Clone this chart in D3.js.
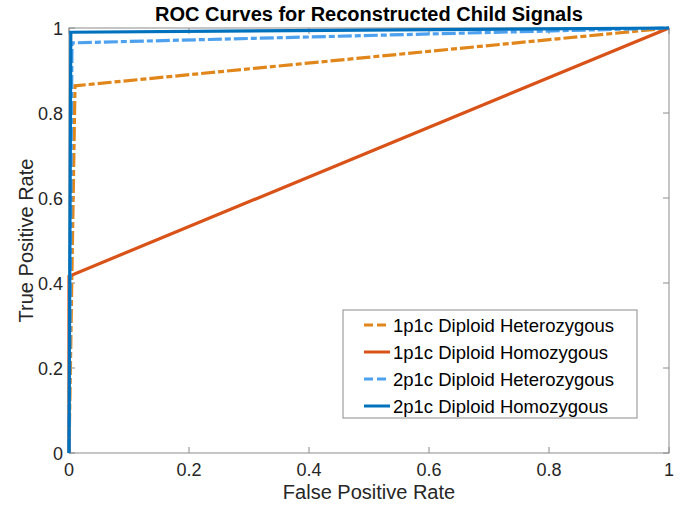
<!DOCTYPE html>
<html><head><meta charset="utf-8">
<script src="https://cdn.jsdelivr.net/npm/d3@7"></script>
<style>body{margin:0;background:#fff}svg{display:block}</style>
</head><body>
<svg id="c" width="697" height="505"></svg>
<script>
const seriesNames = ["1p1c Diploid Heterozygous","1p1c Diploid Homozygous","2p1c Diploid Heterozygous","2p1c Diploid Homozygous"];
const fpr1Het = [0, 0.01, 1];   const tpr1Het = [0, 0.864, 1];
const fpr1Hom = [0, 0.0, 1];    const tpr1Hom = [0, 0.416, 1];
const fpr2Het = [0, 0.005, 1];  const tpr2Het = [0, 0.965, 1];
const fpr2Hom = [0, 0.003, 1];  const tpr2Hom = [0, 0.99, 1];
const xTicks = [0,0.2,0.4,0.6,0.8,1];
const yTicks = [0,0.2,0.4,0.6,0.8,1];

const colors = ["#E0861A","#D95319","#4DA1EE","#0072BD"];
const dashes = ["14,3,6,3",null,"14,3,6,3",null];
const series = [[fpr1Het,tpr1Het],[fpr1Hom,tpr1Hom],[fpr2Het,tpr2Het],[fpr2Hom,tpr2Hom]];

const svg = d3.select("#c");
const L=69,R=669,T=28,B=453;
const x = d3.scaleLinear().domain([0,1]).range([L,R]);
const y = d3.scaleLinear().domain([0,1]).range([B,T]);
const font = "'Liberation Sans', Arial, Helvetica, sans-serif";
const axc = "#8c8c8c";

svg.append("rect").attr("x",L).attr("y",T).attr("width",R-L).attr("height",B-T)
  .attr("fill","none").attr("stroke",axc).attr("stroke-width",1);
xTicks.forEach(t=>{
  const px = x(t);
  svg.append("line").attr("x1",px).attr("x2",px).attr("y1",B).attr("y2",B-6).attr("stroke",axc);
  svg.append("line").attr("x1",px).attr("x2",px).attr("y1",T).attr("y2",T+6).attr("stroke",axc);
  svg.append("text").attr("x",px).attr("y",B+23).attr("text-anchor","middle")
    .attr("font-family",font).attr("font-size",18).attr("fill","#262626").text(d3.format("~g")(t));
});
yTicks.forEach(t=>{
  const py = y(t);
  svg.append("line").attr("x1",L).attr("x2",L+6).attr("y1",py).attr("y2",py).attr("stroke",axc);
  svg.append("line").attr("x1",R).attr("x2",R-6).attr("y1",py).attr("y2",py).attr("stroke",axc);
  svg.append("text").attr("x",L-6).attr("y",py+7).attr("text-anchor","end")
    .attr("font-family",font).attr("font-size",18).attr("fill","#262626").text(d3.format("~g")(t));
});

const line = d3.line().x(d=>x(d[0])).y(d=>y(d[1]));
series.forEach((s,i)=>{
  const pts = s[0].map((v,j)=>[v,s[1][j]]);
  svg.append("path").attr("d",line(pts)).attr("fill","none")
    .attr("stroke",colors[i]).attr("stroke-width",3.2)
    .attr("stroke-dasharray",dashes[i]);
});

svg.append("text").attr("x",(L+R)/2).attr("y",21).attr("text-anchor","middle")
  .attr("font-family",font).attr("font-weight","bold").attr("font-size",20).attr("fill","#000")
  .text("ROC Curves for Reconstructed Child Signals");
svg.append("text").attr("x",(L+R)/2).attr("y",499).attr("text-anchor","middle")
  .attr("font-family",font).attr("font-size",20).attr("fill","#262626").text("False Positive Rate");
svg.append("text").attr("transform",`translate(33,${(T+B)/2}) rotate(-90)`).attr("text-anchor","middle")
  .attr("font-family",font).attr("font-size",20).attr("fill","#262626").text("True Positive Rate");

const lg = svg.append("g");
lg.append("rect").attr("x",343).attr("y",310).attr("width",294).attr("height",108)
  .attr("fill","#fff").attr("stroke",axc);
seriesNames.forEach((n,i)=>{
  const yy = 325 + i*27;
  lg.append("line").attr("x1",364).attr("x2",390).attr("y1",yy).attr("y2",yy)
    .attr("stroke",colors[i]).attr("stroke-width",3).attr("stroke-dasharray",dashes[i]?"9,4":null);
  lg.append("text").attr("x",393).attr("y",yy+6.5).attr("font-family",font).attr("font-size",18.5)
    .attr("fill","#000").text(n);
});
</script>
</body></html>
